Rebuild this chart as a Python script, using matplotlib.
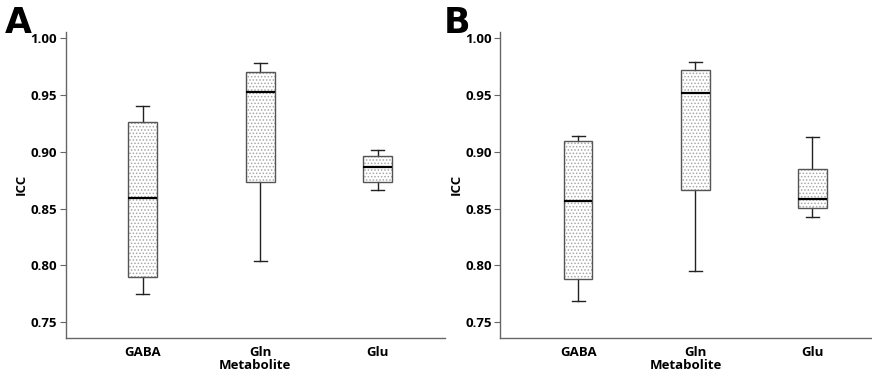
import matplotlib.pyplot as plt
from matplotlib.patches import PathPatch

plt.rcParams['font.family'] = ['Open Sans', 'DejaVu Sans']
plt.rcParams['hatch.linewidth'] = 0.7

metabolites = ['GABA', 'Gln', 'Glu']

# box statistics: lower whisker, Q1, median, Q3, upper whisker
a_low = [0.775, 0.804, 0.866]
a_q1 = [0.790, 0.8735, 0.8738]
a_med = [0.8597, 0.9525, 0.8864]
a_q3 = [0.9266, 0.970, 0.8964]
a_high = [0.940, 0.978, 0.9017]

b_low = [0.769, 0.795, 0.843]
b_q1 = [0.788, 0.8665, 0.8503]
b_med = [0.8565, 0.9518, 0.8583]
b_q3 = [0.9099, 0.9724, 0.8852]
b_high = [0.914, 0.9789, 0.9128]

yticks = [0.75, 0.80, 0.85, 0.90, 0.95, 1.00]


def make_stats(low, q1, med, q3, high):
    stats = []
    for i in range(len(metabolites)):
        stats.append(dict(label=metabolites[i], whislo=low[i], q1=q1[i], med=med[i],
                          q3=q3[i], whishi=high[i], fliers=[]))
    return stats


def draw_panel(ax, stats, xlim):
    bp = ax.bxp(stats, positions=[1, 2, 3], widths=0.245, patch_artist=True,
                showfliers=False,
                boxprops=dict(facecolor='white', edgecolor='#a8a8a8', linewidth=0, hatch='.....'),
                medianprops=dict(color='black', linewidth=1.6),
                whiskerprops=dict(color='#222222', linewidth=1.0),
                capprops=dict(color='#222222', linewidth=1.0),
                capwidths=0.11)
    # outline on top of the dotted fill
    for box in bp['boxes']:
        ax.add_patch(PathPatch(box.get_path(), transform=box.get_transform(), fill=False,
                               edgecolor='#555555', linewidth=1.0, zorder=box.get_zorder() + 0.1))
    for m in bp['medians']:
        m.set_zorder(5)

    ax.set_xlim(*xlim)
    ax.set_ylim(0.7364, 1.0058)
    ax.set_yticks(yticks)
    ax.set_yticklabels(['%.2f' % t for t in yticks], fontsize=9.5, fontweight='bold')
    ax.set_xticks([1, 2, 3])
    ax.set_xticklabels(metabolites, fontsize=9.5, fontweight='bold')
    ax.tick_params(axis='x', length=0, pad=6)
    ax.tick_params(axis='y', length=4, width=0.8, color='#666666', pad=2)
    for s in ['top', 'right']:
        ax.spines[s].set_visible(False)
    for s in ['left', 'bottom']:
        ax.spines[s].set_color('#666666')
        ax.spines[s].set_linewidth(1.0)
    ax.set_ylabel('ICC', fontsize=9.5, fontweight='bold', labelpad=2)
    ax.set_xlabel('Metabolite', fontsize=9.5, fontweight='bold', labelpad=0)
    ax.set_facecolor('none')


fig = plt.figure(figsize=(8.72, 3.71), dpi=100)
ax1 = fig.add_axes([0.0753, 0.0898, 0.4350, 0.8248])
ax2 = fig.add_axes([0.5734, 0.0898, 0.4266, 0.8248])

draw_panel(ax1, make_stats(a_low, a_q1, a_med, a_q3, a_high), (0.342, 3.575))
draw_panel(ax2, make_stats(b_low, b_q1, b_med, b_q3, b_high), (0.333, 3.51))

fig.text(0.005, 0.985, 'A', fontsize=25, fontweight='bold', va='top', ha='left', family='DejaVu Sans')
fig.text(0.509, 0.985, 'B', fontsize=25, fontweight='bold', va='top', ha='left', family='DejaVu Sans')

fig.savefig('out.png', dpi=100, facecolor='white')
